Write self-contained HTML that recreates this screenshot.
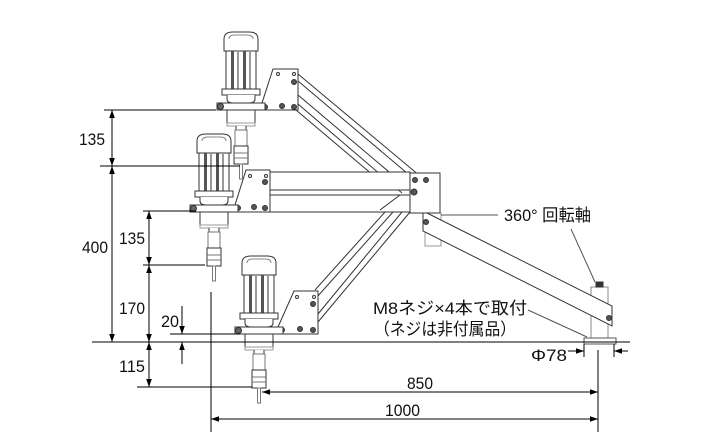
<!DOCTYPE html>
<html><head><meta charset="utf-8"><style>
html,body{margin:0;padding:0;background:#fff}
svg{display:block}
text{font-family:"Liberation Sans","Noto Sans CJK JP",sans-serif;fill:#111}
</style></head><body>
<svg width="717" height="443" viewBox="0 0 717 443" xmlns="http://www.w3.org/2000/svg">
<defs>
<marker id="a" viewBox="0 0 10 10" refX="10" refY="5" markerWidth="8" markerHeight="8" orient="auto-start-reverse" markerUnits="userSpaceOnUse"><path d="M0,1.5 L10,5 L0,8.5 z" fill="#000"/></marker>
<g id="motor" stroke="#333" stroke-width="1" fill="#fff">
  <path d="M3,20 L3,8 Q3,1 12,1 L28,1 Q37,1 37,8 L37,20 Z"/>
  <path d="M8,8 Q8,4 14,4 L26,4 Q32,4 32,8" fill="none" stroke="#888"/>
  <rect x="5" y="20" width="30" height="38"/>
  <rect x="10" y="20" width="3" height="38" fill="#555" stroke="none"/>
  <rect x="16" y="20" width="2" height="38" fill="#999" stroke="none"/>
  <rect x="22" y="20" width="3" height="38" fill="#555" stroke="none"/>
  <rect x="28" y="20" width="2" height="38" fill="#999" stroke="none"/>
  <rect x="1" y="58" width="38" height="6"/>
  <path d="M6,64 L6,68 Q6,72 12,72 L28,72 Q34,72 34,68 L34,64"/>
  <rect x="-4" y="72" width="48" height="7"/>
  <circle cx="-0.5" cy="75.5" r="3" fill="#666"/>
  <rect x="6" y="79" width="28" height="13"/>
  <rect x="6" y="92" width="28" height="3" stroke="#999"/>
  <path d="M15,95 L15,99 L25,99 L25,95" fill="#fff"/>
  <rect x="14" y="99" width="12" height="16" stroke="#777"/>
  <rect x="13" y="115" width="14" height="18" stroke="#333"/>
  <line x1="13" y1="122" x2="27" y2="122" stroke="#777"/>
  <line x1="13" y1="127" x2="27" y2="127" stroke="#777"/>
  <rect x="18.5" y="133" width="3" height="15" stroke="#777"/>
</g>
</defs>

<g stroke="#333" stroke-width="1" fill="#fff">
  <rect x="591" y="287" width="17" height="52" stroke="#888"/>
  <rect x="596" y="282" width="7" height="5" fill="#333"/>
  <rect x="584" y="338" width="32" height="6" stroke="#555"/>
  <rect x="425" y="213" width="16" height="33" stroke="#999"/>
  <polygon points="423,211 612,306 612,326 423,231"/>
  <circle cx="426" cy="222" r="2.5" fill="#555"/>
  <circle cx="609" cy="318" r="2.5" fill="#555"/>

  <g fill="none">
    <line x1="298" y1="74" x2="420" y2="176"/>
    <line x1="298" y1="81" x2="414" y2="179"/>
    <line x1="298" y1="95" x2="408" y2="188"/>
    <line x1="298" y1="104" x2="402" y2="193"/>
    <line x1="296" y1="110" x2="380" y2="181"/>
  </g>
  <g fill="none">
    <line x1="315" y1="290" x2="385" y2="212"/>
    <line x1="317" y1="297" x2="393" y2="212"/>
    <line x1="318" y1="314" x2="402" y2="212"/>
    <line x1="318" y1="322" x2="410" y2="212"/>
    <line x1="375" y1="212" x2="393" y2="196"/>
    <line x1="382" y1="212" x2="398" y2="198"/>
  </g>
  <rect x="270" y="172" width="140" height="18"/>
  <rect x="270" y="195" width="140" height="17"/>
  <line x1="380" y1="210" x2="400" y2="195" />
  <rect x="410" y="173" width="30" height="40"/>
  <circle cx="415" cy="180" r="2.5" fill="#555"/>
  <circle cx="426" cy="180" r="2.5" fill="#555"/>
  <circle cx="414" cy="192" r="3" fill="#555"/>

  <path d="M273,69 L298,69 L298,110 L262,110 L262,103 Z"/>
  <circle cx="278" cy="74" r="1.5"/><circle cx="294" cy="74" r="1.5"/>
  <circle cx="294" cy="82" r="2.5" fill="#555"/>
  <circle cx="265" cy="107" r="2.5" fill="#555"/>
  <circle cx="282" cy="106" r="2.5" fill="#555"/>
  <circle cx="294" cy="107" r="2.5" fill="#555"/>
  <path d="M246,170 L270,170 L270,212 L235,212 L235,205 Z"/>
  <circle cx="250" cy="176" r="1.5"/><circle cx="266" cy="176" r="1.5"/>
  <circle cx="265" cy="182" r="2.5" fill="#555"/>
  <circle cx="238" cy="208" r="2.5" fill="#555"/>
  <circle cx="254" cy="207" r="2.5" fill="#555"/>
  <circle cx="265" cy="208" r="2.5" fill="#555"/>
  <path d="M294,291 L318,291 L318,334 L278,334 L278,327 Z"/>
  <circle cx="297" cy="297" r="1.5"/><circle cx="314" cy="297" r="1.5"/>
  <circle cx="313" cy="304" r="2.5" fill="#555"/>
  <circle cx="282" cy="330" r="2.5" fill="#555"/>
  <circle cx="300" cy="329" r="2.5" fill="#555"/>
  <circle cx="313" cy="330" r="2.5" fill="#555"/>
</g>
<use href="#motor" transform="translate(221,31)"/>
<use href="#motor" transform="translate(194,133)"/>
<use href="#motor" transform="translate(239,255)"/>

<g stroke="#000" stroke-width="1" fill="none">
  <line x1="104" y1="110" x2="216" y2="110"/>
  <line x1="100" y1="166" x2="240" y2="166"/>
  <line x1="143" y1="211" x2="196" y2="211"/>
  <line x1="143" y1="265" x2="205" y2="265"/>
  <line x1="92" y1="342" x2="630" y2="342"/>
  <line x1="137" y1="387" x2="252" y2="387"/>
  <line x1="170" y1="334" x2="240" y2="334"/>
  <line x1="211" y1="292" x2="211" y2="432"/>
  <line x1="598" y1="350" x2="598" y2="432"/>
  <line x1="584" y1="344" x2="584" y2="357"/>
  <line x1="614" y1="344" x2="614" y2="357"/>
  <line x1="112" y1="110" x2="112" y2="166" marker-start="url(#a)" marker-end="url(#a)"/>
  <line x1="112" y1="166" x2="112" y2="342" marker-start="url(#a)" marker-end="url(#a)"/>
  <line x1="149" y1="211" x2="149" y2="265" marker-start="url(#a)" marker-end="url(#a)"/>
  <line x1="149" y1="265" x2="149" y2="342" marker-start="url(#a)" marker-end="url(#a)"/>
  <line x1="149" y1="342" x2="149" y2="387" marker-start="url(#a)" marker-end="url(#a)"/>
  <line x1="182" y1="306" x2="182" y2="334" marker-end="url(#a)"/>
  <line x1="182" y1="364" x2="182" y2="342" marker-end="url(#a)"/>
  <line x1="262" y1="392" x2="598" y2="392" marker-start="url(#a)" marker-end="url(#a)"/>
  <line x1="211" y1="419" x2="598" y2="419" marker-start="url(#a)" marker-end="url(#a)"/>
  <line x1="568" y1="351" x2="584" y2="351" marker-end="url(#a)"/>
  <line x1="628" y1="351" x2="614" y2="351" marker-end="url(#a)"/>
  <line x1="441" y1="215" x2="498" y2="215" stroke="#555"/>
  <line x1="571" y1="229" x2="595" y2="282" stroke="#555"/>
  <line x1="528" y1="310" x2="587" y2="337" stroke="#555"/>
</g>

<g font-size="17" lengthAdjust="spacingAndGlyphs">
  <text x="79" y="145" textLength="26" lengthAdjust="spacingAndGlyphs">135</text>
  <text x="82" y="253" textLength="26" lengthAdjust="spacingAndGlyphs">400</text>
  <text x="119" y="244" textLength="26" lengthAdjust="spacingAndGlyphs">135</text>
  <text x="119" y="314" textLength="26" lengthAdjust="spacingAndGlyphs">170</text>
  <text x="161" y="327" textLength="18" lengthAdjust="spacingAndGlyphs">20</text>
  <text x="119" y="372" textLength="26" lengthAdjust="spacingAndGlyphs">115</text>
  <text x="407" y="389" textLength="26" lengthAdjust="spacingAndGlyphs">850</text>
  <text x="385" y="416" textLength="35" lengthAdjust="spacingAndGlyphs">1000</text>
  <text x="531" y="361" textLength="36" lengthAdjust="spacingAndGlyphs">Φ78</text>
  <text x="504" y="221" textLength="87" lengthAdjust="spacingAndGlyphs">360° 回転軸</text>
  <text x="373" y="314" textLength="154" lengthAdjust="spacingAndGlyphs">M8ネジ×4本で取付</text>
  <text x="374" y="335" textLength="142" lengthAdjust="spacingAndGlyphs">（ネジは非付属品）</text>
</g>
</svg>
</body></html>
